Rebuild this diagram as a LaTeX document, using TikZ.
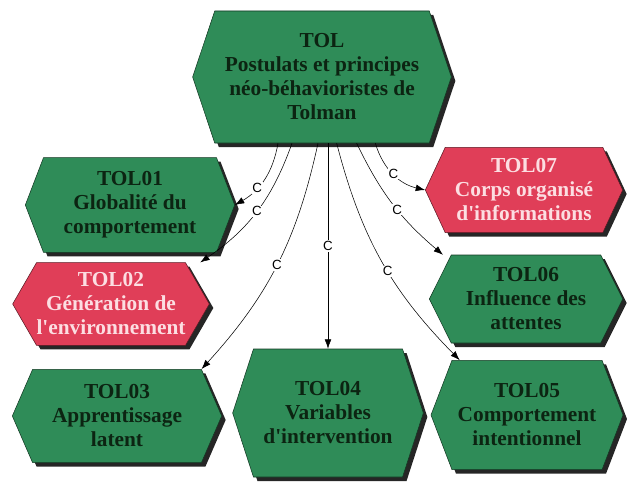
\documentclass[tikz,border=0pt]{standalone}
\usepackage{fontspec}
\setmainfont{Liberation Serif}
\newfontfamily\linkfont{Liberation Sans}
\usetikzlibrary{shapes.symbols,shadows,arrows.meta}

\definecolor{tolgreen}{RGB}{47,140,88}
\definecolor{tolred}{RGB}{224,62,88}
\definecolor{tolink}{RGB}{12,36,18}
\definecolor{tolpink}{RGB}{252,222,226}

\begin{document}
\begin{tikzpicture}[x=0.75pt, y=-0.75pt,
        hexa/.style={signal, signal to=east and west, draw=black!60!tolgreen, line width=0.4pt,
                     align=center, inner sep=0pt, font=\fontsize{16}{18}\selectfont\bfseries,
                     drop shadow={shadow xshift=3pt, shadow yshift=-3pt, opacity=1, fill=black!85}},
        gbox/.style={hexa, fill=tolgreen, text=tolink},
        rbox/.style={hexa, fill=tolred, text=tolpink, draw=black!60!tolred},
        link/.style={-{Latex[length=7pt,width=5pt]}, thin, black},
        cc/.style={fill=white, inner sep=0.6pt, font=\linkfont\fontsize{10}{10}\selectfont},
        ]

      \useasboundingbox (0,0) rectangle (627,481);

      \node[gbox, minimum width=194pt, minimum height=99pt, signal pointer angle=143] (tol) at (322,77)
            {TOL\\Postulats et principes\\néo-béhavioristes de\\Tolman};

      \node[gbox, minimum width=157pt, minimum height=71pt, signal pointer angle=138] (tol01) at (130,205)
            {TOL01\\Globalité du\\comportement};
      \node[rbox, minimum width=146pt, minimum height=62pt, signal pointer angle=120] (tol02) at (111,304)
            {TOL02\\Génération de\\l\textquotesingle environnement};
      \node[gbox, minimum width=157pt, minimum height=70pt, signal pointer angle=133] (tol03) at (117,416)
            {TOL03\\Apprentissage\\latent};
      \node[gbox, minimum width=143pt, minimum height=96pt, signal pointer angle=144] (tol04) at (328,413)
            {TOL04\\Variables\\d\textquotesingle intervention};
      \node[gbox, minimum width=144pt, minimum height=82pt, signal pointer angle=138] (tol05) at (527,415)
            {TOL05\\Comportement\\intentionnel};
      \node[gbox, minimum width=145pt, minimum height=66pt, signal pointer angle=127] (tol06) at (526,299)
            {TOL06\\Influence des\\attentes};
      \node[rbox, minimum width=148pt, minimum height=64pt, signal pointer angle=130] (tol07) at (524,190)
            {TOL07\\Corps organisé\\d\textquotesingle informations};

      % links from the main postulate
      \draw[link] ([xshift=-33pt]tol.south) to[bend left=25] node[cc, pos=0.65] {C} (tol01.east);
      \draw[link] ([xshift=-22.5pt]tol.south) to[bend left=18] node[cc, pos=0.5] {C} ([xshift=11pt]tol02.north east);
      \draw[link] ([xshift=-3pt]tol.south) to[bend left=15] node[cc, pos=0.5] {C} (tol03.north east);
      \draw[link] (tol.south -| tol04.north) -- node[cc, pos=0.5] {C} (tol04.north);
      \draw[link] ([xshift=11pt]tol.south) to[bend right=15] node[cc, pos=0.55] {C} ([xshift=6pt]tol05.north west);
      \draw[link] ([xshift=26pt]tol.south) to[bend right=12] node[cc, pos=0.55] {C} ([xshift=-6pt]tol06.north west);
      \draw[link] ([xshift=40pt]tol.south) to[bend right=30] node[cc, pos=0.5] {C} (tol07.west);
    \end{tikzpicture}
\end{document}
